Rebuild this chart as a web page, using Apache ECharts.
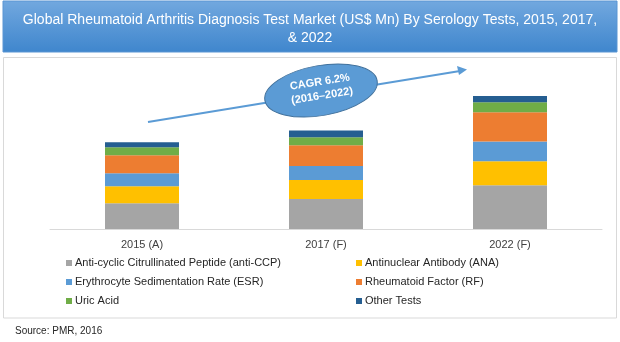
<!DOCTYPE html>
<html>
<head>
<meta charset="utf-8">
<script src="https://cdn.jsdelivr.net/npm/echarts@6/dist/echarts.min.js"></script>
<style>html,body{margin:0;padding:0;background:#fff}#c{width:620px;height:342px}</style>
</head>
<body>
<div id="c"></div>
<script>
// Data (estimated, US$ Mn)
const categories = ['2015 (A)', '2017 (F)', '2022 (F)'];
const seriesNames = [
  'Anti-cyclic Citrullinated Peptide (anti-CCP)',
  'Antinuclear Antibody (ANA)',
  'Erythrocyte Sedimentation Rate (ESR)',
  'Rheumatoid Factor (RF)',
  'Uric Acid',
  'Other Tests'
];
const antiCCP = [257, 300, 437];
const ana = [170, 190, 240];
const esr = [130, 140, 197];
const rf = [180, 207, 293];
const uricAcid = [80, 80, 100];
const otherTests = [50, 67, 63];
const seriesValues = [antiCCP, ana, esr, rf, uricAcid, otherTests];
const colors = ['#a5a5a5', '#ffc000', '#5b9bd5', '#ed7d31', '#70ad47', '#255e91'];
const titleLines = ['Global Rheumatoid Arthritis Diagnosis Test Market (US$ Mn) By Serology Tests, 2015, 2017,', '& 2022'];
const cagrLines = ['CAGR 6.2%', '(2016\u20132022)'];
const sourceText = 'Source: PMR, 2016';

const FONT = 'Liberation Sans, sans-serif';
const chart = echarts.init(document.getElementById('c'), null, {renderer: 'canvas'});

const legendStyle = {
  orient: 'vertical', padding: 0, itemWidth: 6, itemHeight: 6, itemGap: 5,
  icon: 'rect', top: 256,
  textStyle: {fontFamily: FONT, fontSize: 11, color: '#262626', lineHeight: 14, padding: [0,0,0,-2]}
};

chart.setOption({
  animation: false,
  color: colors,
  grid: {left: 50, right: 18, top: 60, bottom: 113},
  xAxis: {
    type: 'category', data: categories,
    axisLine: {lineStyle: {color: '#d9d9d9', width: 1}},
    axisTick: {show: false},
    axisLabel: {color: '#404040', fontFamily: FONT, fontSize: 11, margin: 10}
  },
  yAxis: {type: 'value', min: 0, max: 1690, show: false, splitLine: {show: false}},
  legend: [
    Object.assign({left: 66, data: [seriesNames[0], seriesNames[2], seriesNames[4]]}, legendStyle),
    Object.assign({left: 356, data: [seriesNames[1], seriesNames[3], seriesNames[5]]}, legendStyle)
  ],
  series: seriesNames.map((n, i) => ({
    name: n, type: 'bar', stack: 'total', barWidth: 74,
    data: seriesValues[i], itemStyle: {color: colors[i]}
  })),
  graphic: [
    {type: 'rect', z: -1, shape: {x: 3.5, y: 57.5, width: 613, height: 260.5},
     style: {fill: '#fff', stroke: '#d9d9d9', lineWidth: 1}},
    {type: 'rect', shape: {x: 3, y: 1, width: 614, height: 51},
     style: {fill: new echarts.graphic.LinearGradient(0, 0, 0, 1, [
       {offset: 0, color: '#72a8df'}, {offset: 1, color: '#3f86cd'}]),
       stroke: '#5a95d3', lineWidth: 1}},
    {type: 'text', x: 310, y: 11,
     style: {text: titleLines.join('\n'), fill: '#fff', font: '14px ' + FONT, lineHeight: 18, align: 'center', verticalAlign: 'top'}},
    // CAGR arrow
    {type: 'line', shape: {x1: 148, y1: 122, x2: 460, y2: 71},
     style: {stroke: '#5b9bd5', lineWidth: 2}},
    {type: 'polygon', shape: {points: [[467, 69.5], [457, 66], [459, 75]]},
     style: {fill: '#5b9bd5'}},
    {type: 'ellipse', shape: {cx: 0, cy: 0, rx: 57, ry: 25}, x: 321, y: 90.5, rotation: 10 * Math.PI / 180,
     style: {fill: '#5b9bd5', stroke: '#41719c', lineWidth: 1}},
    {type: 'text', x: 321, y: 89, rotation: 9 * Math.PI / 180,
     style: {text: cagrLines.join('\n'), fill: '#fff', font: 'bold 11px ' + FONT, lineHeight: 14,
       align: 'center', verticalAlign: 'middle'}},
    {type: 'text', left: 15, top: 326,
     style: {text: sourceText, fill: '#262626', font: '10px ' + FONT}}
  ]
});
</script>
</body>
</html>
